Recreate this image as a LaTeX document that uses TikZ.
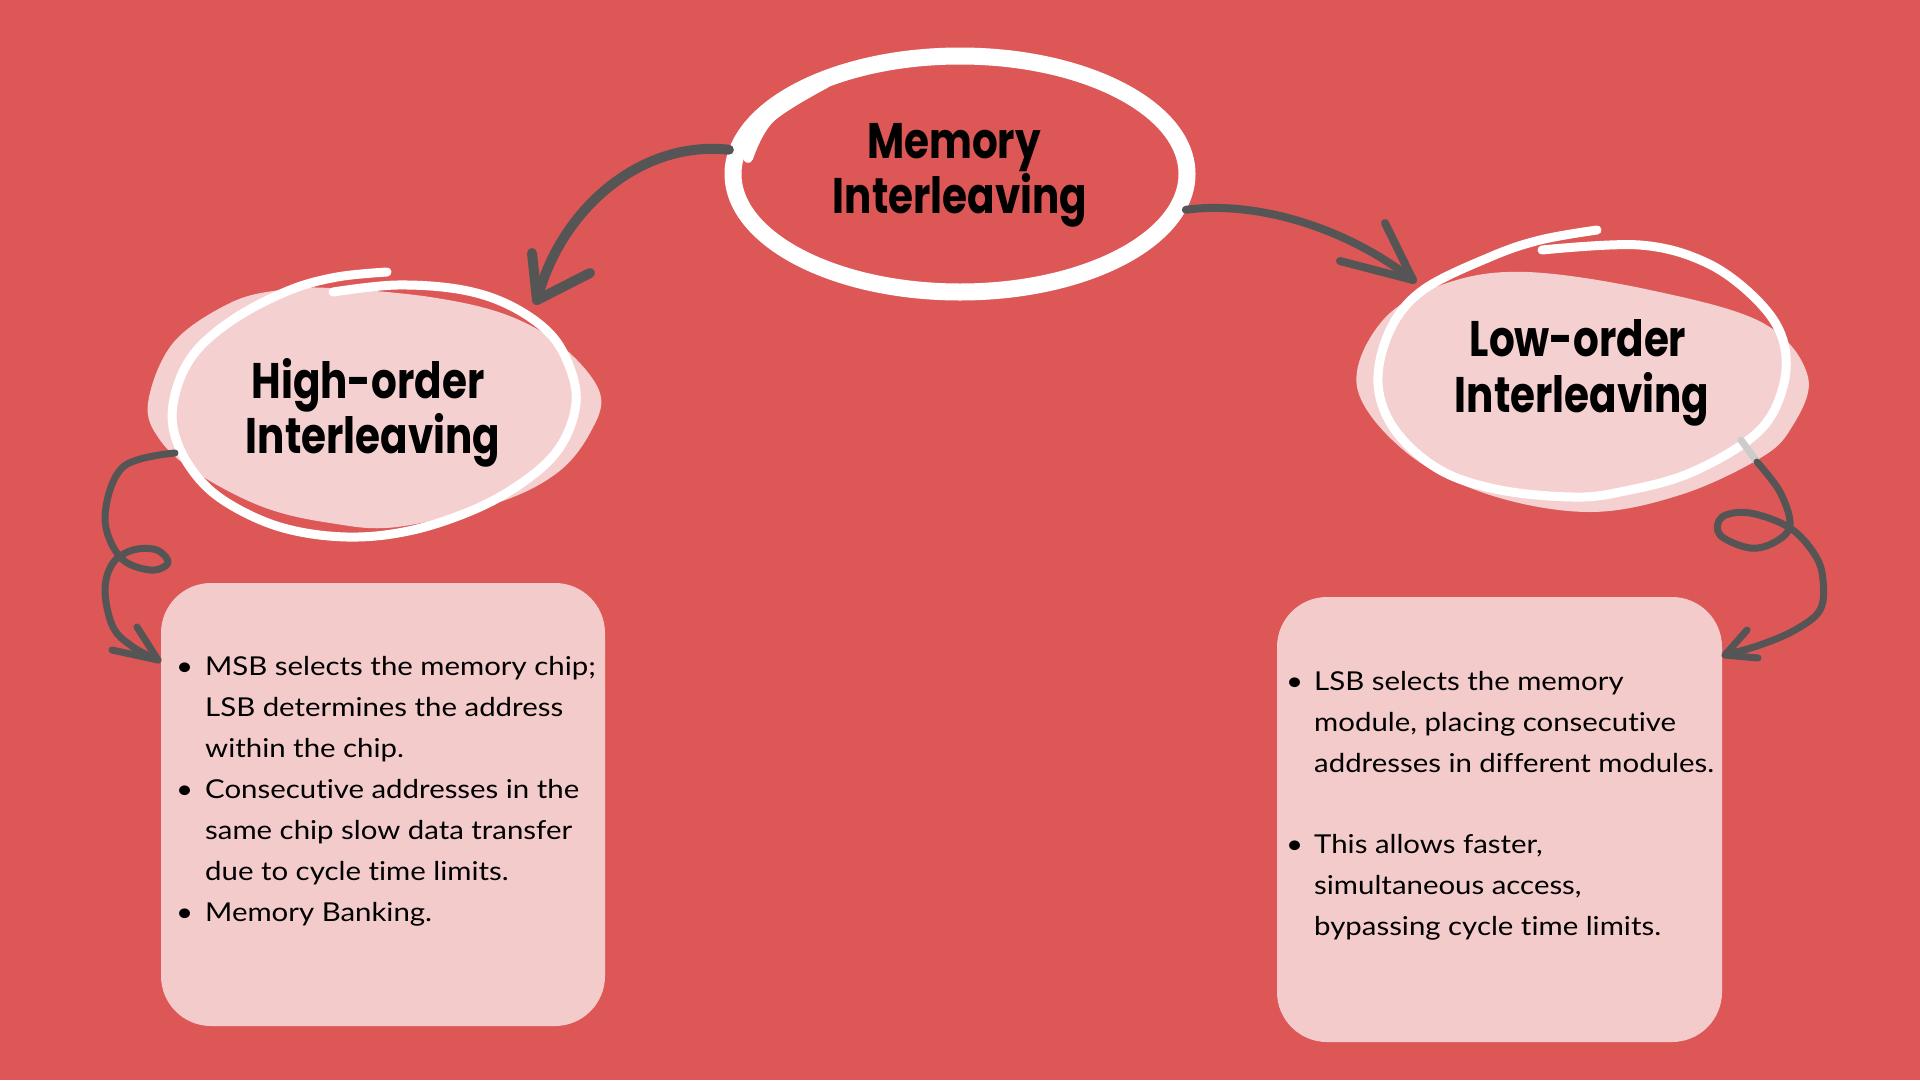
\documentclass[tikz,border=0pt]{standalone}
\usepackage{fontspec}
\setmainfont{Lato}[Ligatures=NoCommon, FakeStretch=1.13]
\newfontfamily\headfont{Poppins}[FakeStretch=0.81]
\usetikzlibrary{shapes.geometric}
\definecolor{bgred}{HTML}{DE5757}
\definecolor{blobpink}{HTML}{F5D0D0}
\definecolor{boxpink}{HTML}{F4CBCB}
\definecolor{arrowgray}{HTML}{555555}
\begin{document}
\begin{tikzpicture}[x=1pt,y=-1pt,
  heading/.style={font=\headfont\bfseries\fontsize{50}{55}\selectfont, text=black, inner sep=0pt, anchor=base},
  bodytext/.style={font=\fontsize{26}{41}\selectfont, text=black, inner sep=0pt, anchor=base west},
  pinkbox/.style={fill=boxpink, rounded corners=50pt, minimum width=444pt, minimum height=443pt, inner sep=0pt},
  conn/.style={draw=arrowgray, line width=8pt, line cap=round, line join=round},
  ringline/.style={draw=white, line cap=round, line join=round},
  blob/.style={fill=blobpink}]
\useasboundingbox (0,0) rectangle (1920,1080);
\fill[bgred] (0,0) rectangle (1920,1080);

% ---------- left blob and ring ----------
\path[blob] plot[smooth cycle, tension=0.6] coordinates {(148,403) (173,343) (230,303) (280,290) (330,288) (430,297) (507,315) (563,347) (600,393) (590,433) (557,473) (497,503) (397,527) (330,523) (263,507) (197,473) (160,440)};
\draw[ringline, line width=9pt] plot[smooth, tension=0.6] coordinates {(333,292) (397,285) (463,290) (513,307) (553,337) (573,377) (575,410) (560,447) (530,477) (480,507) (413,530) (347,537) (280,527) (223,500) (190,467) (173,427) (177,387) (197,350) (237,317) (290,290) (337,277) (387,272)};

% ---------- right blob and ring ----------
\path[blob] plot[smooth cycle, tension=0.6] coordinates {(1357,387) (1383,320) (1447,283) (1527,272) (1650,290) (1763,323) (1808,377) (1790,430) (1757,460) (1680,495) (1590,512) (1490,495) (1407,453)};
\draw[ringline, line width=9pt] plot[smooth, tension=0.6] coordinates {(1542,250) (1640,245) (1707,263) (1757,300) (1783,340) (1783,387) (1757,433) (1690,473) (1620,492) (1573,497) (1500,490) (1440,470) (1395,430) (1378,383) (1390,330) (1423,290) (1490,257) (1540,240) (1597,230)};

% ---------- main ellipse ----------
\node[ellipse, draw=white, line width=17pt, minimum width=454pt, minimum height=236pt, inner sep=0pt] (main) at (960,174) {};
\draw[ringline, line width=10pt] plot[smooth, tension=0.6] coordinates {(748,158) (770,118) (826,83)};

% ---------- headings ----------
\node[heading] (mainA) at (954,158) {Memory};
\node[heading] (mainB) at (960,213) {Interleaving};
\node[heading] (highA) at (368,398) {High-order};
\node[heading] (highB) at (373,453) {Interleaving};
\node[heading] (lowA) at (1578,356) {Low-order};
\node[heading] (lowB) at (1582,412) {Interleaving};

% ---------- boxes ----------
\node[pinkbox] (lbox) at (383,804.5) {};
\node[pinkbox, minimum width=445pt, minimum height=445pt] (rbox) at (1499.5,819.5) {};

\node[bodytext] (ltext) at (176,675) {\parbox[t]{430pt}{\raggedright\parindent=0pt
\hangindent=29pt\hangafter=1\makebox[29pt][l]{\textbullet}MSB selects the memory chip;\newline LSB determines the address\newline within the chip.\par
\hangindent=29pt\hangafter=1\makebox[29pt][l]{\textbullet}Consecutive addresses in the\newline same chip slow data transfer\newline due to cycle time limits.\par
\hangindent=29pt\hangafter=1\makebox[29pt][l]{\textbullet}Memory Banking.\par}};

\node[bodytext] (rtext) at (1286,690) {\parbox[t]{430pt}{\raggedright\parindent=0pt
\hangindent=28pt\hangafter=1\makebox[28pt][l]{\textbullet}LSB selects the memory\newline module, placing consecutive\newline addresses in different modules.\par\vskip40pt
\hangindent=28pt\hangafter=1\makebox[28pt][l]{\textbullet}This allows faster,\newline simultaneous access,\newline bypassing cycle time limits.\par}};

% ---------- connectors ----------
\coordinate (t1) at (537,300);
\coordinate (t1a) at (532,253);
\coordinate (t1b) at (590,273);
\draw[conn, line width=10pt] (main.174) .. controls (640,140) and (560,210) .. (t1);
\draw[conn, line width=10pt] (t1a) -- (t1) -- (t1b);

\coordinate (t2) at (1413,280);
\coordinate (t2a) at (1385,223);
\coordinate (t2b) at (1340,261);
\draw[conn] (main.-9) .. controls (1260,200) and (1350,230) .. (t2);
\draw[conn] (t2a) -- (t2) -- (t2b);

\coordinate (s3) at (175,453);
\coordinate (t3) at (158,660);
\coordinate (t3a) at (137,627);
\coordinate (t3b) at (112,650);
\draw[conn, line width=7pt] plot[smooth, tension=0.6] coordinates {(s3) (123,467) (105,517) (120,557) (150,570) (168,563) (157,550) (133,550) (113,563) (105,590) (113,627) (133,647) (t3)};
\draw[conn, line width=7pt] (t3a) -- (t3) -- (t3b);

\coordinate (s4g) at (1741,440);
\coordinate (s4) at (1757,462);
\coordinate (t4) at (1725,655);
\coordinate (t4a) at (1747,630);
\coordinate (t4b) at (1758,658);
\draw[conn, line width=7pt, draw=black!20] (s4g) -- (s4);
\draw[conn, line width=7pt] plot[smooth, tension=0.6] coordinates {(s4) (1780,492) (1790,525) (1775,542) (1750,548) (1720,535) (1722,517) (1750,513) (1790,528) (1815,555) (1823,580) (1820,610) (1795,630) (1760,645) (t4)};
\draw[conn, line width=7pt] (t4a) -- (t4) -- (t4b);
\end{tikzpicture}
\end{document}
